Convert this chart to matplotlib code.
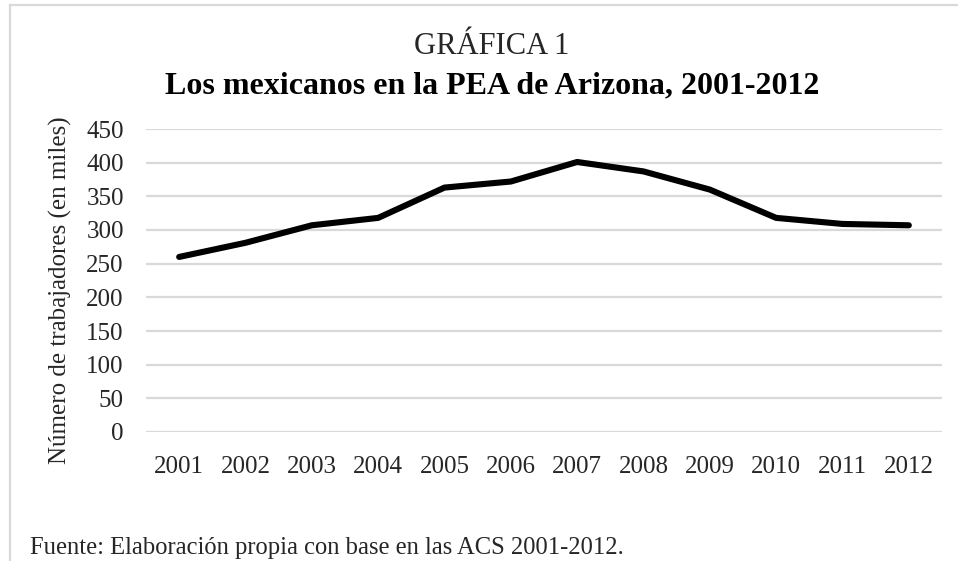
import matplotlib
matplotlib.use("Agg")
import matplotlib.pyplot as plt
from matplotlib.lines import Line2D

years = ["2001", "2002", "2003", "2004", "2005", "2006", "2007", "2008", "2009", "2010", "2011", "2012"]
workers = [260, 281, 307, 318, 363, 372, 401, 387, 360, 318, 309, 307]
yticks = [0, 50, 100, 150, 200, 250, 300, 350, 400, 450]

plt.rcParams['font.family'] = ['Liberation Serif', 'DejaVu Serif']

W, H = 958, 561
fig = plt.figure(figsize=(W / 100, H / 100), dpi=100)
fig.patch.set_facecolor('white')

ax = fig.add_axes([146 / W, 1 - 432 / H, (942 - 146) / W, (432 - 129) / H])
x = list(range(len(years)))
ax.plot(x, workers, color='black', lw=4.4, solid_capstyle='round', solid_joinstyle='round', zorder=3)
ax.set_xlim(-0.5, len(years) - 0.5)
ax.set_ylim(0, 450)
ax.set_yticks(yticks)
ax.set_xticks(x)
ax.set_xticklabels(years)
ax.tick_params(axis='both', length=0, labelsize=18, colors='#262626')
ax.tick_params(axis='y', pad=16)
ax.tick_params(axis='x', pad=17)
for s in ax.spines.values():
    s.set_visible(False)
ax.grid(axis='y', color='#d9d9d9', lw=1.6, zorder=0)
ax.set_axisbelow(True)

fig.text(60 / W, 1 - 290 / H, "Número de trabajadores (en miles)", rotation=90,
         ha='center', va='center', fontsize=18, color='#262626')

fig.text(492 / W, 1 - 47 / H, "GRÁFICA 1", ha='center', va='center', fontsize=22, color='#262626')
fig.text(492 / W, 1 - 86 / H, "Los mexicanos en la PEA de Arizona, 2001-2012", ha='center', va='center',
         fontsize=23, fontweight='bold', color='black')
fig.text(30 / W, 1 - 548 / H, "Fuente: Elaboración propia con base en las ACS 2001-2012.", ha='left',
         va='center', fontsize=17.7, color='#262626')

fig.add_artist(Line2D([10 / W, 1.0], [1 - 5 / H, 1 - 5 / H], transform=fig.transFigure, color='#d9d9d9', lw=1.6))
fig.add_artist(Line2D([10 / W, 10 / W], [0, 1 - 5 / H], transform=fig.transFigure, color='#d9d9d9', lw=1.6))

fig.savefig("out.png", dpi=100, facecolor='white')
